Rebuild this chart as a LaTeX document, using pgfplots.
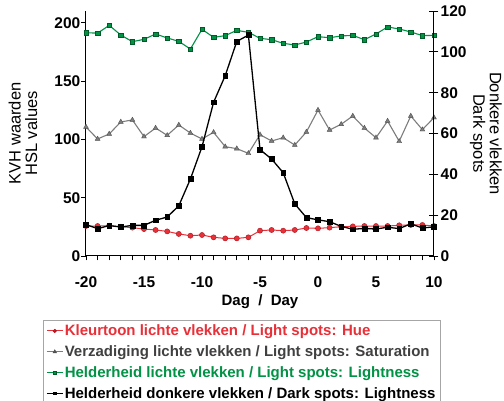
\documentclass[border=0pt]{standalone}
\usepackage{fontspec}
\setmainfont{Liberation Sans}
\usepackage{pgfplots}
\pgfplotsset{compat=1.18}
\definecolor{cred}{RGB}{232,48,56}
\definecolor{credd}{RGB}{170,20,30}
\definecolor{cgreen}{RGB}{0,146,69}
\definecolor{cgreend}{RGB}{0,90,40}
\definecolor{cgrey}{RGB}{125,125,125}
\definecolor{cgreyd}{RGB}{80,80,80}
\definecolor{cgreytext}{RGB}{64,64,64}
\begin{document}
\begin{tikzpicture}
\path[use as bounding box] (-86pt,-145pt) rectangle (418pt,256pt);
\begin{axis}[
  at={(0,0)}, anchor=south west,
  scale only axis, width=348pt, height=245pt,
  xmin=-20, xmax=10, ymin=0, ymax=210,
  axis y line*=left, axis x line*=bottom,
  xtick={-20,-15,...,10}, minor xtick={-19,...,9},
  ytick={0,50,...,200},
  tick align=outside,
  major tick length=4.5pt, minor tick length=4.5pt,
  every tick/.style={black, line width=0.9pt},
  axis line style={line width=1pt},
  ticklabel style={font=\bfseries\fontsize{15.5}{16}\selectfont},
  xticklabel style={yshift=-13pt},
  yticklabel style={inner sep=1pt},
  /pgf/number format/assume math mode=true,
  xlabel={Dag\ \ /\ \ Day},
  xlabel style={font=\bfseries\fontsize{15}{16}\selectfont, at={(axis description cs:0.5,-0.185)}, anchor=center},
  ylabel={KVH waarden\\HSL values},
  ylabel style={font=\fontsize{16.5}{16.5}\selectfont, align=center, at={(axis description cs:-0.181,0.5)}, anchor=center},
  clip=false,
]
\addplot[cred, line width=1pt, mark=*, mark size=2.6pt, mark options={fill=cred, draw=credd, line width=0.4pt}] coordinates {
(-20,25.7) (-19,25.7) (-18,26.0) (-17,25.1) (-16,24.3) (-15,23.1) (-14,22.3) (-13,21.1) (-12,18.9) (-11,17.4)
(-10,18.0) (-9,16.0) (-8,15.1) (-7,15.1) (-6,16.0) (-5,21.7) (-4,22.3) (-3,21.7) (-2,22.3) (-1,24.0)
(0,23.7) (1,24.3) (2,25.1) (3,25.4) (4,25.7) (5,25.7) (6,25.7) (7,26.3) (8,26.6) (9,26.6) (10,25.7)};
\addplot[cgrey, line width=1.1pt, mark=triangle*, mark size=2.8pt, mark options={fill=cgrey, draw=cgreyd, line width=0.4pt}] coordinates {
(-20,110.6) (-19,100.3) (-18,104.6) (-17,114.9) (-16,116.6) (-15,102.3) (-14,109.7) (-13,103.4) (-12,112.3) (-11,105.4)
(-10,100.3) (-9,106.0) (-8,93.7) (-7,92.0) (-6,88.0) (-5,104.0) (-4,98.6) (-3,101.4) (-2,95.1) (-1,106.3)
(0,125.1) (1,108.0) (2,112.9) (3,120.0) (4,109.7) (5,101.4) (6,115.7) (7,98.3) (8,120.0) (9,108.3) (10,118.6)};
\addplot[cgreen, line width=1.1pt, mark=square*, mark size=2.2pt, mark options={fill=cgreen, draw=cgreend, line width=0.4pt}] coordinates {
(-20,191.4) (-19,191.0) (-18,197.7) (-17,189.4) (-16,183.7) (-15,185.7) (-14,190.3) (-13,186.9) (-12,184.0) (-11,177.4)
(-10,194.3) (-9,187.4) (-8,188.9) (-7,193.4) (-6,191.7) (-5,186.6) (-4,185.4) (-3,182.3) (-2,180.9) (-1,183.4)
(0,188.0) (1,187.1) (2,188.6) (3,189.1) (4,185.4) (5,190.3) (6,196.3) (7,194.6) (8,192.0) (9,188.9) (10,189.1)};
\end{axis}
\begin{axis}[
  at={(0,0)}, anchor=south west,
  scale only axis, width=348pt, height=245pt,
  xmin=-20, xmax=10, ymin=0, ymax=120,
  axis y line*=right, axis x line=none,
  ytick={0,20,...,120},
  tick align=center,
  major tick length=9pt,
  every tick/.style={black, line width=0.9pt},
  axis line style={line width=1pt},
  ticklabel style={font=\bfseries\fontsize{15.5}{16}\selectfont},
  yticklabel style={inner sep=2pt},
  /pgf/number format/assume math mode=true,
  ylabel={Donkere vlekken\\Dark spots},
  ylabel style={font=\fontsize{16.5}{16.5}\selectfont, align=center, rotate=180, at={(axis description cs:1.149,0.5)}, anchor=center},
  clip=false,
  legend cell align=left,
  legend style={at={(axis description cs:-0.1236,-0.2612)}, anchor=north west,
    draw=gray!70, line width=0.6pt, font=\bfseries\fontsize{15}{15}\selectfont,
    inner xsep=3pt, inner ysep=3pt, row sep=5.5pt,
    nodes={inner sep=1.5pt}},
  legend image code/.code={\draw[#1, mark=none] (0pt,0pt) -- (16pt,0pt); \draw[#1, only marks] plot coordinates {(8pt,0pt)};},
]
\addlegendimage{cred, line width=1pt, mark=*, mark size=1.5pt, mark options={fill=cred, draw=credd}}
\addlegendentry{\textcolor{cred}{Kleurtoon lichte vlekken / Light spots: Hue}}
\addlegendimage{cgrey, line width=1pt, mark=triangle*, mark size=1.6pt, mark options={fill=cgrey, draw=cgreyd}}
\addlegendentry{\textcolor{cgreytext}{Verzadiging lichte vlekken / Light spots: Saturation}}
\addlegendimage{cgreen, line width=1pt, mark=square*, mark size=1.4pt, mark options={fill=cgreen, draw=cgreend}}
\addlegendentry{\textcolor{cgreen}{Helderheid lichte vlekken / Light spots: Lightness}}
\addlegendimage{black, line width=1pt, mark=square*, mark size=1.4pt, mark options={fill=black}}
\addlegendentry{Helderheid donkere vlekken / Dark spots: Lightness}
\addplot[black, line width=1.3pt, mark=square*, mark size=2.4pt, mark options={fill=black, line width=0.4pt}, forget plot] coordinates {
(-20,15.4) (-19,13.4) (-18,14.9) (-17,14.2) (-16,15.0) (-15,15.0) (-14,17.5) (-13,19.1) (-12,24.6) (-11,37.7)
(-10,53.5) (-9,75.3) (-8,88.3) (-7,105.1) (-6,108.2) (-5,52.1) (-4,47.5) (-3,40.8) (-2,25.5) (-1,18.8)
(0,17.7) (1,16.8) (2,14.5) (3,13.1) (4,13.5) (5,13.2) (6,14.1) (7,13.4) (8,15.8) (9,13.7) (10,14.3)};
\end{axis}
\end{tikzpicture}
\end{document}
